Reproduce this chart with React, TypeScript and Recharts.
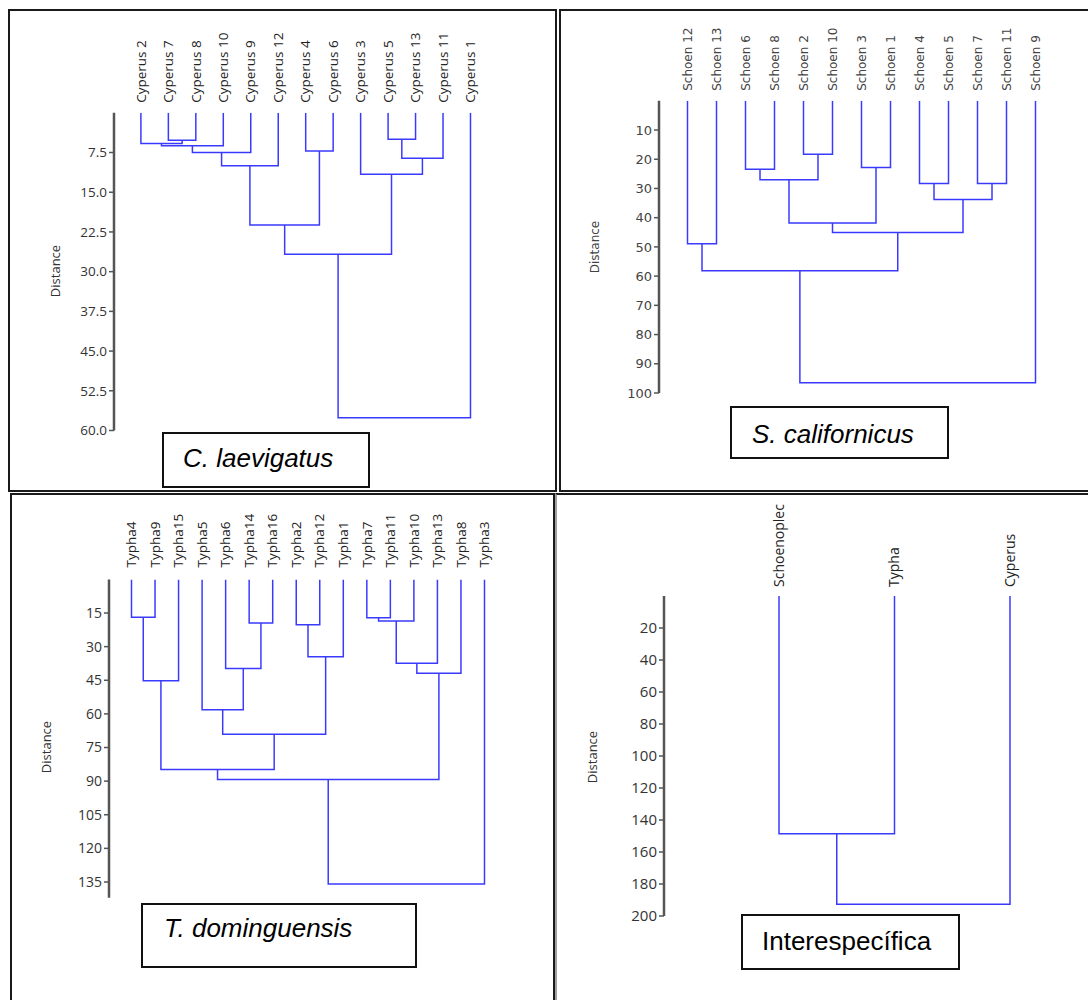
import React from 'react';
import { LineChart, Line, XAxis, YAxis } from 'recharts';

type Merge = [number, number, number];

// C. laevigatus — leaves in plotted order, merges: [node a, node b, distance]
// node ids below leaves.length are leaves, the rest are earlier merges in order
const cyperusLeaves = ['Cyperus 2', 'Cyperus 7', 'Cyperus 8', 'Cyperus 10', 'Cyperus 9', 'Cyperus 12', 'Cyperus 4', 'Cyperus 6', 'Cyperus 3', 'Cyperus 5', 'Cyperus 13', 'Cyperus 11', 'Cyperus 1'];
const cyperusMerges: Merge[] = [
  [1, 2, 5.2],
  [0, 13, 5.8],
  [14, 3, 6.2],
  [15, 4, 7.5],
  [16, 5, 10.0],
  [6, 7, 7.2],
  [17, 18, 21.2],
  [9, 10, 5.0],
  [20, 11, 8.6],
  [8, 21, 11.6],
  [19, 22, 26.7],
  [23, 12, 57.6],
];
const cyperusTicks = [7.5, 15, 22.5, 30, 37.5, 45, 52.5, 60];

// S. californicus
const schoenLeaves = ['Schoen 12', 'Schoen 13', 'Schoen 6', 'Schoen 8', 'Schoen 2', 'Schoen 10', 'Schoen 3', 'Schoen 1', 'Schoen 4', 'Schoen 5', 'Schoen 7', 'Schoen 11', 'Schoen 9'];
const schoenMerges: Merge[] = [
  [4, 5, 18.3],
  [2, 3, 23.4],
  [14, 13, 27.0],
  [6, 7, 22.8],
  [8, 9, 28.3],
  [10, 11, 28.3],
  [17, 18, 33.8],
  [15, 16, 41.8],
  [20, 19, 45.1],
  [0, 1, 48.9],
  [22, 21, 58.2],
  [23, 12, 96.5],
];
const schoenTicks = [10, 20, 30, 40, 50, 60, 70, 80, 90, 100];

// T. dominguensis
const typhaLeaves = ['Typha4', 'Typha9', 'Typha15', 'Typha5', 'Typha6', 'Typha14', 'Typha16', 'Typha2', 'Typha12', 'Typha1', 'Typha7', 'Typha11', 'Typha10', 'Typha13', 'Typha8', 'Typha3'];
const typhaMerges: Merge[] = [
  [0, 1, 16.9],
  [16, 2, 45.2],
  [5, 6, 19.5],
  [4, 18, 39.8],
  [3, 19, 58.1],
  [7, 8, 20.2],
  [21, 9, 34.5],
  [20, 22, 69.1],
  [17, 23, 84.8],
  [10, 11, 17.1],
  [25, 12, 18.6],
  [26, 13, 37.4],
  [27, 14, 41.9],
  [24, 28, 89.3],
  [29, 15, 135.9],
];
const typhaTicks = [15, 30, 45, 60, 75, 90, 105, 120, 135];

// Interespecífica
const interLeaves = ['Schoenoplec', 'Typha', 'Cyperus'];
const interMerges: Merge[] = [
  [0, 1, 148.6],
  [3, 2, 192.6],
];
const interTicks = [20, 40, 60, 80, 100, 120, 140, 160, 180, 200];

const LINK = '#3a3aff';
const AXIS = '#555';

// turns merges into U-shaped link polylines (x = leaf slot, y = distance)
function buildLinks(leafCount: number, merges: Merge[]) {
  const pos: number[] = [];
  const hgt: number[] = [];
  for (let i = 0; i < leafCount; i++) {
    pos.push(i);
    hgt.push(0);
  }
  return merges.map(([a, b, h]) => {
    const seg = [
      { x: pos[a], y: hgt[a] },
      { x: pos[a], y: h },
      { x: pos[b], y: h },
      { x: pos[b], y: hgt[b] },
    ];
    pos.push((pos[a] + pos[b]) / 2);
    hgt.push(h);
    return seg;
  });
}

interface FontSpec {
  size: number;
  family: string;
  color: string;
}

interface Box {
  top: number;
  axisX: number;
  y0: number;
  yEnd: number;
  x0: number;
  x1: number;
  gap: number;
}

interface DendroProps {
  leaves: string[];
  merges: Merge[];
  ticks: number[];
  max: number;
  fmt: (v: number) => string;
  box: Box;
  leafFont: FontSpec;
  tickFont: FontSpec;
}

const Dendrogram = ({ leaves, merges, ticks, max, fmt, box, leafFont, tickFont }: DendroProps) => {
  const n = leaves.length;
  const span = (box.x1 - box.x0) / (n - 1);
  const yw = 100;
  const bottom = 14;
  const left = box.axisX - yw;
  const width = box.x1 + span - left;
  const height = box.yEnd - box.top + bottom;
  const links = buildLinks(n, merges);

  const leafTick = (props: any) => {
    const { x, y, payload } = props;
    return (
      <text
        x={x}
        y={y}
        transform={`rotate(-90 ${x} ${y})`}
        textAnchor="start"
        dy="0.35em"
        fontSize={leafFont.size}
        fontFamily={leafFont.family}
        fill={leafFont.color}
      >
        {leaves[payload.value]}
      </text>
    );
  };

  return (
    <div style={{ position: 'absolute', left, top: box.top }}>
      <LineChart width={width} height={height} margin={{ top: 0, right: 0, bottom, left: 0 }}>
        <XAxis
          type="number"
          dataKey="x"
          orientation="top"
          domain={[-(box.x0 - box.axisX) / span, n]}
          ticks={leaves.map((_, i) => i)}
          interval={0}
          height={box.y0 - box.top}
          axisLine={false}
          tickLine={false}
          tickSize={0}
          tickMargin={box.gap}
          tick={leafTick}
          allowDataOverflow
        />
        <YAxis
          type="number"
          reversed
          domain={[0, max]}
          ticks={ticks}
          interval={0}
          width={yw}
          tickFormatter={fmt}
          tickSize={5}
          tickMargin={2}
          axisLine={{ stroke: AXIS, strokeWidth: 2.5 }}
          tickLine={{ stroke: AXIS, strokeWidth: 1.5 }}
          tick={{ fontSize: tickFont.size, fontFamily: tickFont.family, fill: tickFont.color }}
          allowDataOverflow
        />
        {links.map((d, i) => (
          <Line
            key={i}
            data={d}
            dataKey="y"
            type="linear"
            stroke={LINK}
            strokeWidth={1.5}
            dot={false}
            activeDot={false}
            isAnimationActive={false}
          />
        ))}
      </LineChart>
    </div>
  );
};

const Frame = ({ left, top, width, height, style }: any) => (
  <div style={{ position: 'absolute', left, top, width, height, boxSizing: 'border-box', ...style }} />
);

const Caption = ({ box, textLeft, textTop, text, italic }: any) => (
  <>
    <div
      style={{
        position: 'absolute',
        left: box[0],
        top: box[1],
        width: box[2],
        height: box[3],
        boxSizing: 'border-box',
        border: '2px solid #111',
        background: '#fff',
      }}
    />
    <div
      style={{
        position: 'absolute',
        left: textLeft,
        top: textTop,
        fontFamily: '"Liberation Sans", Arial, sans-serif',
        fontSize: 26,
        lineHeight: '26px',
        fontStyle: italic ? 'italic' : 'normal',
        color: '#000',
        whiteSpace: 'nowrap',
      }}
    >
      {text}
    </div>
  </>
);

const AxisTitle = ({ cx, cy, font }: { cx: number; cy: number; font: FontSpec }) => (
  <div
    style={{
      position: 'absolute',
      left: cx,
      top: cy,
      transform: 'translate(-50%, -50%) rotate(-90deg)',
      fontFamily: font.family,
      fontSize: font.size,
      color: font.color,
      whiteSpace: 'nowrap',
      lineHeight: 1,
    }}
  >
    Distance
  </div>
);

const OPEN = '"Open Sans", "Noto Sans", sans-serif';
const DEJA = '"DejaVu Sans", sans-serif';

export default function App() {
  const int = (v: number) => String(v);
  return (
    <div
      style={{
        position: 'absolute',
        left: 0,
        top: 0,
        width: 1088,
        height: 1000,
        overflow: 'hidden',
        background: '#fff',
      }}
    >
      <Frame left={8} top={9} width={549} height={483} style={{ border: '2px solid #1a1a1a' }} />
      <Frame left={559} top={9} width={535} height={483} style={{ border: '2px solid #1a1a1a' }} />
      <Frame left={10} top={493} width={545} height={520} style={{ border: '2px solid #1a1a1a' }} />
      <Frame
        left={555}
        top={493}
        width={540}
        height={520}
        style={{ borderTop: '2px solid #1a1a1a', borderLeft: '2px solid #a0a0a0' }}
      />

      <Dendrogram
        leaves={cyperusLeaves}
        merges={cyperusMerges}
        ticks={cyperusTicks}
        max={60}
        fmt={(v) => v.toFixed(1)}
        box={{ top: 15, axisX: 113.5, y0: 112.8, yEnd: 430.5, x0: 140.4, x1: 470, gap: 10 }}
        leafFont={{ size: 13.5, family: OPEN, color: '#222' }}
        tickFont={{ size: 13.5, family: OPEN, color: '#333' }}
      />
      <AxisTitle cx={55} cy={271} font={{ size: 13, family: OPEN, color: '#333' }} />
      <Caption box={[162, 432, 208, 56]} textLeft={183} textTop={445} text="C. laevigatus" italic />

      <Dendrogram
        leaves={schoenLeaves}
        merges={schoenMerges}
        ticks={schoenTicks}
        max={100}
        fmt={int}
        box={{ top: 12, axisX: 658.5, y0: 100.8, yEnd: 393, x0: 687, x1: 1035, gap: 10 }}
        leafFont={{ size: 12, family: DEJA, color: '#444' }}
        tickFont={{ size: 13, family: DEJA, color: '#444' }}
      />
      <AxisTitle cx={595} cy={247} font={{ size: 12, family: DEJA, color: '#444' }} />
      <Caption box={[730, 406, 219, 53]} textLeft={752} textTop={421} text="S. californicus" italic />

      <Dendrogram
        leaves={typhaLeaves}
        merges={typhaMerges}
        ticks={typhaTicks}
        max={142}
        fmt={int}
        box={{ top: 497, axisX: 108.5, y0: 579.4, yEnd: 897.7, x0: 131, x1: 484, gap: 12 }}
        leafFont={{ size: 13.5, family: OPEN, color: '#222' }}
        tickFont={{ size: 14, family: OPEN, color: '#333' }}
      />
      <AxisTitle cx={46} cy={747} font={{ size: 13, family: OPEN, color: '#333' }} />
      <Caption box={[141, 903, 276, 65]} textLeft={164} textTop={915} text="T. dominguensis" italic />

      <Dendrogram
        leaves={interLeaves}
        merges={interMerges}
        ticks={interTicks}
        max={200}
        fmt={int}
        box={{ top: 497, axisX: 664, y0: 596, yEnd: 916, x0: 779, x1: 1010, gap: 9 }}
        leafFont={{ size: 14, family: OPEN, color: '#222' }}
        tickFont={{ size: 15, family: OPEN, color: '#333' }}
      />
      <AxisTitle cx={592} cy={757} font={{ size: 13, family: OPEN, color: '#333' }} />
      <Caption box={[741, 914, 219, 56]} textLeft={762} textTop={928} text="Interespecífica" />
    </div>
  );
}
